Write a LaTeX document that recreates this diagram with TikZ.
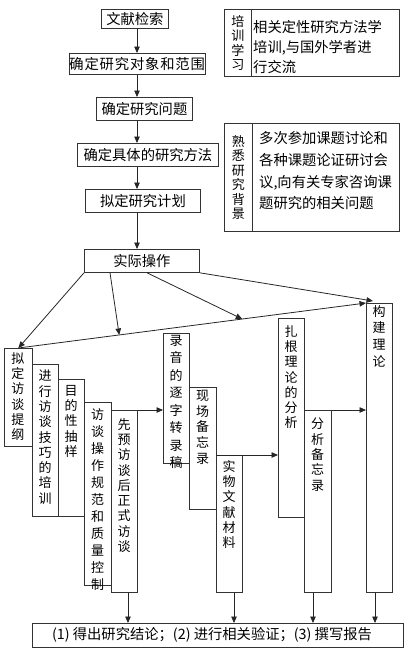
\documentclass[tikz,border=0pt]{standalone}
\usepackage{fontspec}
\setmainfont{Noto Sans CJK SC}
\newfontfamily\widecjk[LetterSpace=6]{Noto Sans CJK SC}
\usetikzlibrary{arrows.meta,calc}
\begin{document}
\begin{tikzpicture}[x=1pt,y=-1pt,
  hbox/.style={draw=black!80, line width=0.8pt, anchor=north west, inner sep=0pt, font=\fontsize{14.3}{17}\selectfont},
  vbox/.style={draw=black!80, line width=0.8pt, anchor=north west, inner sep=0pt},
  vtext/.style={anchor=north, inner sep=0pt, align=center, font=\fontsize{13}{15.3}\selectfont},
  ptext/.style={anchor=west, inner sep=0pt, align=left},
  arr/.style={line width=0.8pt, draw=black!85, -{Triangle[length=6.5pt,width=5.5pt]}},
]
\useasboundingbox (0,0) rectangle (409,653);

% main column
\node[hbox, minimum width=67pt, minimum height=19pt] (s1) at (101,9) {文献检索};
\node[hbox, minimum width=135pt, minimum height=21pt] (s2) at (69,53) {\widecjk 确定研究对象和范围};
\node[hbox, minimum width=96pt, minimum height=23pt] (s3) at (96,97) {确定研究问题};
\node[hbox, minimum width=141pt, minimum height=23pt] (s4) at (77,143) {确定具体的研究方法};
\node[hbox, minimum width=115pt, minimum height=23pt] (s5) at (85,189) {拟定研究计划};
\node[hbox, minimum width=115pt, minimum height=23pt] (s6) at (84,249) {实际操作};

\coordinate (ax) at (137,0);
\draw[arr] (s1.south -| ax) -- (s2.north -| ax);
\draw[arr] (s2.south -| ax) -- (s3.north -| ax);
\draw[arr] (s3.south -| ax) -- (s4.north -| ax);
\draw[arr] (s4.south -| ax) -- (s5.north -| ax);
\draw[arr] (s5.south -| ax) -- (s6.north -| ax);

% right notes
\node[vbox, minimum width=27pt, minimum height=67pt, align=center, font=\fontsize{13}{14.5}\selectfont] (r1a) at (224,9) {培\\训\\学\\习};
\node[vbox, minimum width=148pt, minimum height=67pt] (r1b) at (251,9) {};
\node[ptext, font=\fontsize{14.3}{20}\selectfont] (t1) at (253,46.7) {相关定性研究方法学\\培训,与国外学者进\\行交流};

\node[vbox, minimum width=28pt, minimum height=108pt, align=center, font=\fontsize{13}{14.5}\selectfont] (r2a) at (224,123) {熟\\悉\\研\\究\\背\\景};
\node[vbox, minimum width=147pt, minimum height=108pt] (r2b) at (252,123) {};
\node[ptext, font=\fontsize{14.3}{21.7}\selectfont] (t2) at (259,171) {多次参加课题讨论和\\各种课题论证研讨会\\议,向有关专家咨询课\\题研究的相关问题};

% vertical boxes
\node[vbox, minimum width=28pt, minimum height=98pt] (b1) at (4,348) {};
\node[vbox, minimum width=26pt, minimum height=152pt] (b2) at (32,364) {};
\node[vbox, minimum width=26pt, minimum height=137pt] (b3) at (58,379) {};
\node[vbox, minimum width=27pt, minimum height=183pt] (b4) at (84,402) {};
\node[vbox, minimum width=26pt, minimum height=182pt] (b5) at (111,410) {};
\node[vbox, minimum width=26pt, minimum height=130pt] (b6) at (163,333) {};
\node[vbox, minimum width=27pt, minimum height=122pt] (b7) at (189,387) {};
\node[vbox, minimum width=26pt, minimum height=137pt] (b8) at (216,455) {};
\node[vbox, minimum width=26pt, minimum height=199pt] (b9) at (278,318) {};
\node[vbox, minimum width=27pt, minimum height=182pt] (b10) at (304,410) {};
\node[vbox, minimum width=26pt, minimum height=289pt] (b11) at (366,303) {};

\node[vtext] (v1) at (18,352) {拟\\定\\访\\谈\\提\\纲};
\node[vtext] (v2) at (45,370) {进\\行\\访\\谈\\技\\巧\\的\\培\\训};
\node[vtext] (v3) at (71,385) {目\\的\\性\\抽\\样};
\node[vtext, font=\fontsize{13}{17}\selectfont] (v4) at (97.5,408) {访\\谈\\操\\作\\规\\范\\和\\质\\量\\控\\制};
\node[vtext] (v5) at (124,418) {先\\预\\访\\谈\\后\\正\\式\\访\\谈};
\node[vtext, font=\fontsize{13}{17.5}\selectfont] (v6) at (176,335) {录\\音\\的\\逐\\字\\转\\录\\稿};
\node[vtext, font=\fontsize{13}{15.7}\selectfont] (v7) at (202.5,390) {现\\场\\备\\忘\\录};
\node[vtext] (v8) at (229,460) {实\\物\\文\\献\\材\\料};
\node[vtext] (v9) at (291,325) {扎\\根\\理\\论\\的\\分\\析};
\node[vtext] (v10) at (317.5,418) {分\\析\\备\\忘\\录};
\node[vtext, font=\fontsize{13}{16.7}\selectfont] (v11) at (379,305) {构\\建\\理\\论};

% horizontal connectors
\draw[arr] (b5.north east) -- (b5.north east -| b6.west);
\draw[arr] (b8.north west) -- (b8.north west -| b9.west);
\draw[arr] (b10.north east) -- (b10.north east -| b11.west);

% diagonals from 实际操作
\draw[arr] (b1.north) -- (b11.north west);
\draw[arr] (s6.south west) -- (b1.north);
\draw[arr] ($(s6.south west)+(26,0)$) -- ($(b1.north)!0.29!(b11.north west)$);
\draw[arr] ($(s6.south west)+(63,0)$) -- ($(b1.north)!0.644!(b11.north west)$);
\draw[arr] (s6.south east) -- ($(b11.north west)+(7,-2)$);

% bottom
\node[hbox, minimum width=371pt, minimum height=24pt] (bot) at (32,623) {};
\node[inner sep=0pt, font=\fontsize{14.3}{17}\selectfont] (botlabel) at (212,635) {(1) 得出研究结论；(2) 进行相关验证；(3) 撰写报告};
\coordinate (d5) at (128,0);
\coordinate (d8) at (234,0);
\coordinate (d10) at (313,0);
\coordinate (d11) at (375,0);
\draw[arr] (b5.south -| d5) -- (bot.north -| d5);
\draw[arr] (b8.south -| d8) -- (bot.north -| d8);
\draw[arr] (b10.south -| d10) -- (bot.north -| d10);
\draw[arr] (b11.south -| d11) -- (bot.north -| d11);
\end{tikzpicture}
\end{document}
